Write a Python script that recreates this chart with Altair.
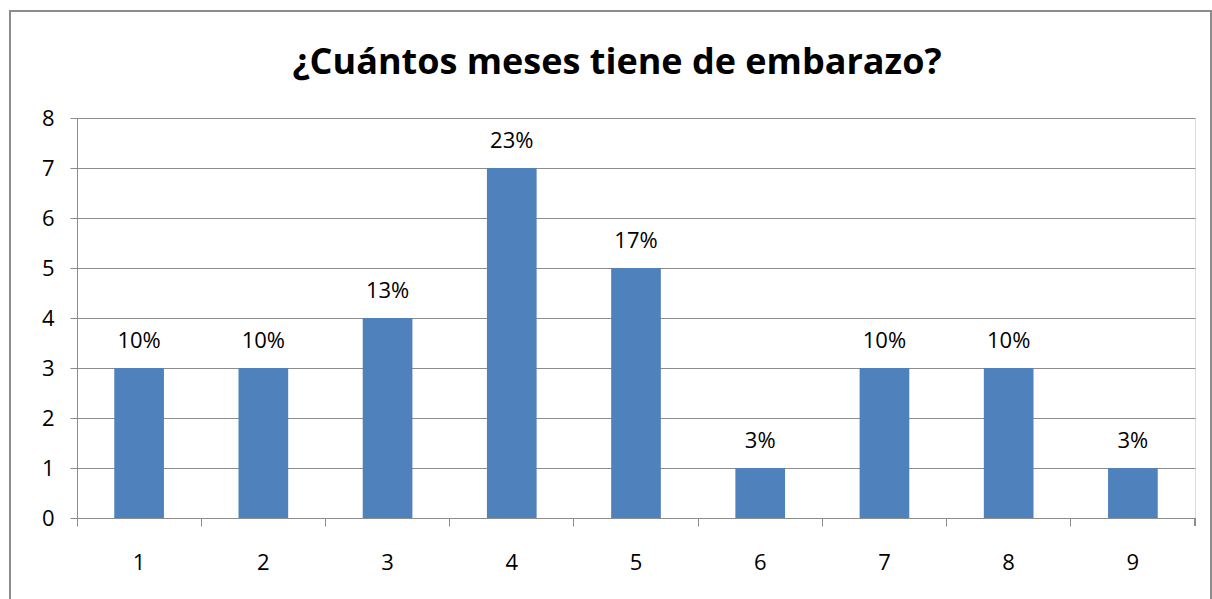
import altair as alt
import pandas as pd

meses = ["1", "2", "3", "4", "5", "6", "7", "8", "9"]
conteos = [3, 3, 4, 7, 5, 1, 3, 3, 1]
porcentajes = ["10%", "10%", "13%", "23%", "17%", "3%", "10%", "10%", "3%"]
titulo = "¿Cuántos meses tiene de embarazo?"

df = pd.DataFrame({"mes": meses, "n": conteos, "pct": porcentajes})

FONT = "Open Sans"
GRID = "#8c8c8c"
BLUE = "#4f81bd"

xs = alt.Scale(paddingInner=0, paddingOuter=0)
x = alt.X("mes:N", sort=meses, title=None, scale=xs,
          axis=alt.Axis(labelAngle=0, bandPosition=0, tickSize=8, tickColor=GRID,
                        domainColor=GRID, labelPadding=26, labelFontSize=22,
                        labelFont=FONT, labelColor="black", grid=False,
                        labelBaseline="top"))
y = alt.Y("n:Q", title=None,
          scale=alt.Scale(domain=[0, 8]),
          axis=alt.Axis(values=list(range(9)), tickSize=7, tickColor=GRID,
                        domainColor=GRID, gridColor=GRID, labelPadding=16,
                        labelFontSize=22, labelFont=FONT, labelColor="black"))

base = alt.Chart(df)
bars = base.mark_bar(color=BLUE, width=alt.RelativeBandSize(0.4)).encode(x=x, y=y)
labels = base.mark_text(dy=-27, fontSize=22, font=FONT, color="black",
                        baseline="middle").encode(x=alt.X("mes:N", sort=meses), y="n:Q", text="pct:N")
end_tick = base.mark_rule(color=GRID).encode(
    x=alt.value(1118), y=alt.value(400), y2=alt.value(408))
border = base.mark_rect(filled=False, stroke=GRID, strokeWidth=2, clip=False).encode(
    x=alt.value(-67), x2=alt.value(1134), y=alt.value(-107), y2=alt.value(520))
title = alt.Chart(pd.DataFrame({"t": [titulo]})).mark_text(
    fontSize=36, font=FONT, fontWeight="bold", color="black", baseline="middle",
    align="center").encode(x=alt.value(540), y=alt.value(-55), text="t:N")

chart = alt.layer(border, bars, labels, end_tick, title).properties(
    width=1118, height=400,
    autosize=alt.AutoSizeParams(type="none"),
    padding={"left": 77, "top": 118, "right": 17, "bottom": 81},
).configure_view(stroke=None).configure(background="white")

chart.save("out.html", embed_options={"renderer": "svg", "actions": False})
